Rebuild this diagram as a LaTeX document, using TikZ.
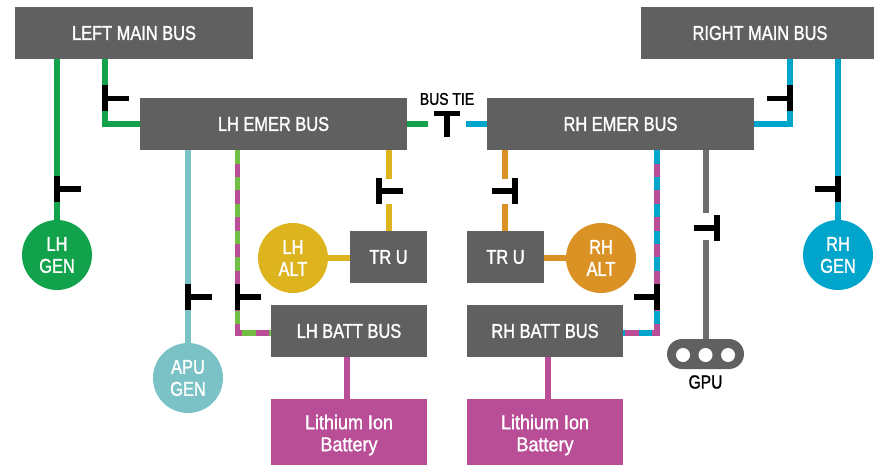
\documentclass[tikz,border=0pt]{standalone}
\usepackage{fontspec}
\setmainfont[FakeStretch=0.82,FakeBold=1.4]{Liberation Sans}
\newfontfamily\cellfont[FakeStretch=0.9,FakeBold=1.4]{Liberation Sans}
\definecolor{busgrey}{HTML}{606060}
\definecolor{feedgrey}{HTML}{6D6D6D}
\definecolor{lhgreen}{HTML}{12A24B}
\definecolor{battgreen}{HTML}{72BE44}
\definecolor{aputeal}{HTML}{7AC2C6}
\definecolor{lhyellow}{HTML}{DEB41E}
\definecolor{rhorange}{HTML}{DB9224}
\definecolor{rhblue}{HTML}{00A5CC}
\definecolor{battpink}{HTML}{BA4E96}
\tikzset{
  bus/.style={fill=busgrey,text=white,inner sep=0pt,font=\fontsize{20}{22}\selectfont,align=center},
  gen/.style={circle,inner sep=0pt,minimum size=70pt,text=white,font=\fontsize{20}{22}\selectfont,align=center},
  batt/.style={fill=battpink,text=white,inner sep=0pt,minimum width=156pt,minimum height=72pt,font=\cellfont\fontsize{20}{22}\selectfont,align=center},
  feed/.style={line width=5.3pt},
  switch/.style={line width=5.3pt,black},
  hole/.style={circle,fill=white,inner sep=0pt,minimum size=14pt}
}
\begin{document}
\begin{tikzpicture}[x=1pt,y=-1pt]
\useasboundingbox (0,0) rectangle (874,465);

% the buses
\node[bus,minimum width=238pt,minimum height=52pt] (leftmain) at (134,33) {LEFT MAIN BUS};
\node[bus,minimum width=238pt,minimum height=52pt] (rightmain) at (760,33) {RIGHT MAIN BUS};
\node[bus,minimum width=267pt,minimum height=52pt] (lhemer) at (273.5,124) {LH EMER BUS};
\node[bus,minimum width=267pt,minimum height=52pt] (rhemer) at (620.5,124) {RH EMER BUS};
\node[bus,minimum width=77pt,minimum height=52pt] (lhtru) at (388.5,257) {TR U};
\node[bus,minimum width=77pt,minimum height=52pt] (rhtru) at (505.5,257) {TR U};
\node[bus,minimum width=156pt,minimum height=52pt] (lhbatt) at (349,331) {LH BATT BUS};
\node[bus,minimum width=156pt,minimum height=52pt] (rhbatt) at (545,331) {RH BATT BUS};

% generators and alternators
\node[gen,fill=lhgreen] (lhgen) at (57,255) {LH\\GEN};
\node[gen,fill=rhblue] (rhgen) at (838,255) {RH\\GEN};
\node[gen,fill=lhyellow] (lhalt) at (293,258) {LH\\ALT};
\node[gen,fill=rhorange] (rhalt) at (601,258) {RH\\ALT};
\node[gen,fill=aputeal] (apugen) at (188,378) {APU\\GEN};

% batteries, they run off the bottom of the page
\node[batt] (lhion) at (349,435) {Lithium Ion\\Battery};
\node[batt] (rhion) at (545,435) {Lithium Ion\\Battery};

% ground power plug
\node[fill=busgrey,rounded corners=15pt,minimum width=77pt,minimum height=30pt,inner sep=0pt] (gpu) at (705.5,354) {};
\foreach \n/\x in {a/683,b/705.5,c/728} \node[hole] (hole\n) at (\x,355) {};
\node[font=\fontsize{19}{21}\selectfont] (gpulabel) at (705.5,382) {GPU};
\node[font=\fontsize{17}{19}\selectfont] (tielabel) at (447,99) {BUS TIE};

% turning points and open ends of the feeds
\coordinate (lhkink) at (105,124);
\coordinate (rhkink) at (790,124);
\coordinate (lhtap) at (237.5,333);
\coordinate (rhtap) at (657,333);
\coordinate (tiel) at (428,124);
\coordinate (tier) at (466,124);
\coordinate (lhtrutop) at (389,179);
\coordinate (lhtrubot) at (389,204);
\coordinate (rhtrutop) at (505,179);
\coordinate (rhtrubot) at (505,204);
\coordinate (gputop) at (706,213);
\coordinate (gpubot) at (706,240);
\coordinate (lhdrop) at (347,378);
\coordinate (rhdrop) at (548,378);

% draw the feeds
\draw[feed,lhgreen] (lhgen.north |- leftmain.south) -- (lhgen.north);
\draw[feed,lhgreen] (leftmain.south -| lhkink) -- (lhkink) -- (lhemer.west |- lhkink);
\draw[feed,lhgreen] (lhemer.east |- tiel) -- (tiel);
\draw[feed,rhblue] (tier) -- (rhemer.west |- tier);
\draw[feed,rhblue] (rhgen.north |- rightmain.south) -- (rhgen.north);
\draw[feed,rhblue] (rightmain.south -| rhkink) -- (rhkink) -- (rhemer.east |- rhkink);
\draw[feed,aputeal] (apugen.north |- lhemer.south) -- (apugen.north);
\draw[feed,lhyellow] (lhemer.south -| lhtrutop) -- (lhtrutop);
\draw[feed,lhyellow] (lhtrubot) -- (lhtru.north -| lhtrubot);
\draw[feed,lhyellow] (lhalt.east) -- (lhtru.west |- lhalt.east);
\draw[feed,rhorange] (rhemer.south -| rhtrutop) -- (rhtrutop);
\draw[feed,rhorange] (rhtrubot) -- (rhtru.north -| rhtrubot);
\draw[feed,rhorange] (rhtru.east |- rhalt.west) -- (rhalt.west);
\draw[feed,feedgrey] (rhemer.south -| gputop) -- (gputop);
\draw[feed,feedgrey] (gpubot) -- (gpu.north -| gpubot);
\draw[feed,battpink] (lhbatt.south -| lhdrop) -- (lhion.north -| lhdrop);
\draw[feed,battpink] (rhbatt.south -| rhdrop) -- (rhion.north -| rhdrop);

% two coloured feeds to the battery buses
\draw[feed,battgreen] (lhemer.south -| lhtap) -- (lhtap) -- (lhbatt.west |- lhtap);
\draw[feed,battpink,dash pattern=on 13.4pt off 13.4pt,dash phase=13.4pt] (lhemer.south -| lhtap) -- (lhtap) -- (lhbatt.west |- lhtap);
\draw[feed,rhblue] (rhemer.south -| rhtap) -- (rhtap) -- (rhbatt.east |- rhtap);
\draw[feed,battpink,dash pattern=on 13.4pt off 13.4pt,dash phase=13.4pt] (rhemer.south -| rhtap) -- (rhtap) -- (rhbatt.east |- rhtap);

% the switches
\foreach \x/\y/\d in {57/189/1,105/98.5/1,188/297/1,237.5/297/1,379/191/1,515/191/-1,657/297/-1,717/228/-1,790/98.5/-1,838/189/-1}
  \draw[switch] (\x,\y-13) -- (\x,\y+13) (\x,\y) -- (\x+\d*23.5,\y);

% the bus tie switch
\draw[switch] (434,113.5) -- (460,113.5) (447,113.5) -- (447,137);
\end{tikzpicture}
\end{document}
